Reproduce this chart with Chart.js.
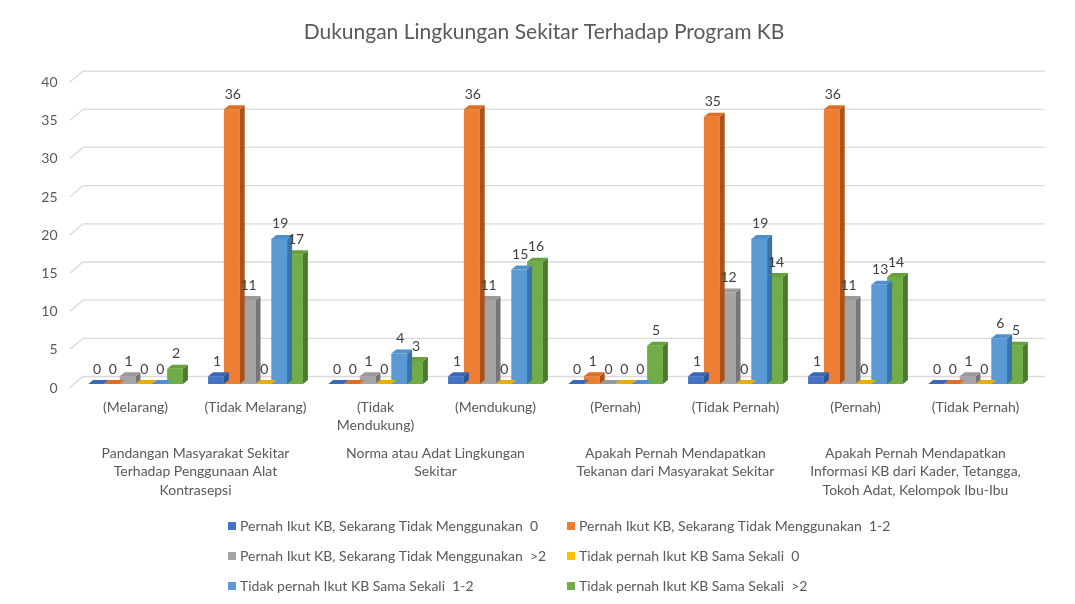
<!DOCTYPE html>
<html>
<head>
<meta charset="utf-8">
<script src="https://cdn.jsdelivr.net/npm/chart.js@4.4.1/dist/chart.umd.min.js"></script>
<style>
    body { margin: 0; background: #fff; }
    #wrap { width: 1075px; height: 604px; }
</style>
</head>
<body>
<div id="wrap"><canvas id="kbChart" width="1075" height="604"></canvas></div>
<script>
const chartTitle = "Dukungan Lingkungan Sekitar Terhadap Program KB";
const categories = ["(Melarang)", "(Tidak Melarang)", ["(Tidak", "Mendukung)"], "(Mendukung)",
    "(Pernah)", "(Tidak Pernah)", "(Pernah)", "(Tidak Pernah)"];
const groups = [
    ["Pandangan Masyarakat Sekitar", "Terhadap Penggunaan Alat", "Kontrasepsi"],
    ["Norma atau Adat Lingkungan", "Sekitar"],
    ["Apakah Pernah Mendapatkan", "Tekanan dari Masyarakat Sekitar"],
    ["Apakah Pernah Mendapatkan", "Informasi KB dari Kader, Tetangga,", "Tokoh Adat, Kelompok Ibu-Ibu"]
];
const seriesNames = [
    "Pernah Ikut KB, Sekarang Tidak Menggunakan  0",
    "Pernah Ikut KB, Sekarang Tidak Menggunakan  1-2",
    "Pernah Ikut KB, Sekarang Tidak Menggunakan  >2",
    "Tidak pernah Ikut KB Sama Sekali  0",
    "Tidak pernah Ikut KB Sama Sekali  1-2",
    "Tidak pernah Ikut KB Sama Sekali  >2"
];
const pernahNol = [0, 1, 0, 1, 0, 1, 1, 0];
const pernahSatuDua = [0, 36, 0, 36, 1, 35, 36, 0];
const pernahLebihDua = [1, 11, 1, 11, 0, 12, 11, 1];
const tidakNol = [0, 0, 0, 0, 0, 0, 0, 0];
const tidakSatuDua = [0, 19, 4, 15, 0, 19, 13, 6];
const tidakLebihDua = [2, 17, 3, 16, 5, 14, 14, 5];
const yTicks = [0, 5, 10, 15, 20, 25, 30, 35, 40];

const frontColors = ["#4472C4", "#ED7D31", "#A5A5A5", "#FFC000", "#5B9BD5", "#70AD47"];
const sideColors = ["#2F5597", "#A9521A", "#777777", "#B98B00", "#3A73A8", "#4B7A2E"];
const topColors = ["#3B67B5", "#DC6F25", "#9A9A9A", "#E8AF00", "#5290CB", "#66A03F"];
const allSeries = [pernahNol, pernahSatuDua, pernahLebihDua, tidakNol, tidakSatuDua, tidakLebihDua];

const DX = 5, DY = 4;
const FONT = "Lato, 'Open Sans', sans-serif";

// title drawn by hand: Excel centres it a bit right of the canvas middle
const titlePlugin = {
    id: "titlePlugin",
    afterDraw(chart) {
        const ctx = chart.ctx;
        ctx.save();
        ctx.font = "21px " + FONT;
        ctx.fillStyle = "#595959";
        ctx.textAlign = "center";
        ctx.textBaseline = "middle";
        ctx.fillText(chartTitle, 544, 32);
        ctx.restore();
    }
};

// back wall grid lines with the little slanted floor edge
const wallGrid = {
    id: "wallGrid",
    beforeDatasetsDraw(chart) {
        const { ctx, chartArea, scales: { y } } = chart;
        ctx.save();
        ctx.strokeStyle = "#d9d9d9";
        ctx.lineWidth = 1.3;
        yTicks.forEach(v => {
            const py = y.getPixelForValue(v);
            ctx.beginPath();
            ctx.moveTo(chartArea.left - 5.5, py + 3.5);
            ctx.lineTo(chartArea.left + 7.5, py - 7.5);
            ctx.lineTo(chartArea.right + 9.5, py - 7.5);
            ctx.stroke();
        });
        ctx.restore();
    }
};

// side + top faces, drawn right after each dataset so the next bar covers them
const bar3d = {
    id: "bar3d",
    afterDatasetDraw(chart, args) {
        const ctx = chart.ctx;
        const i = args.index;
        ctx.save();
        args.meta.data.forEach(bar => {
            const p = bar.getProps(["x", "y", "base", "width"], true);
            const l = p.x - p.width / 2, r = p.x + p.width / 2;
            ctx.fillStyle = sideColors[i];
            ctx.beginPath();
            ctx.moveTo(r, p.y);
            ctx.lineTo(r + DX, p.y - DY);
            ctx.lineTo(r + DX, p.base - DY);
            ctx.lineTo(r, p.base);
            ctx.closePath();
            ctx.fill();
            ctx.fillStyle = topColors[i];
            ctx.beginPath();
            ctx.moveTo(l, p.y);
            ctx.lineTo(l + DX, p.y - DY);
            ctx.lineTo(r + DX, p.y - DY);
            ctx.lineTo(r, p.y);
            ctx.closePath();
            ctx.fill();
        });
        ctx.restore();
    }
};

const valueLabels = {
    id: "valueLabels",
    afterDatasetsDraw(chart) {
        const ctx = chart.ctx;
        ctx.save();
        ctx.font = "14px " + FONT;
        ctx.fillStyle = "#404040";
        ctx.textAlign = "center";
        ctx.textBaseline = "middle";
        chart.data.datasets.forEach((ds, i) => {
            chart.getDatasetMeta(i).data.forEach((bar, j) => {
                ctx.fillText(ds.data[j], bar.x + 1, bar.y - 15);
            });
        });
        ctx.restore();
    }
};

const sideLegend = {
    id: "sideLegend",
    afterDraw(chart) {
        const ctx = chart.ctx;
        const colX = [228, 567];
        const rowY = [526, 556, 586];
        ctx.save();
        ctx.font = "14px " + FONT;
        ctx.textBaseline = "middle";
        seriesNames.forEach((name, i) => {
            const x = colX[i % 2], y = rowY[Math.floor(i / 2)];
            ctx.fillStyle = frontColors[i];
            ctx.fillRect(x, y - 4, 8, 8);
            ctx.fillStyle = "#595959";
            ctx.fillText(name, x + 12, y);
        });
        ctx.restore();
    }
};

const datasets = allSeries.map((vals, i) => ({
    label: seriesNames[i],
    data: vals,
    backgroundColor: frontColors[i],
    categoryPercentage: 0.79,
    barPercentage: 1.0
}));

new Chart(document.getElementById("kbChart"), {
    type: "bar",
    data: { labels: categories, datasets: datasets },
    options: {
        responsive: false,
        animation: false,
        layout: { padding: { left: 0, right: 39.5, top: 78.6, bottom: 92 } },
        plugins: {
            legend: { display: false },
            tooltip: { enabled: false },
            title: { display: false }
        },
        scales: {
            x: {
                grid: { display: false, drawTicks: false },
                border: { display: false },
                ticks: { color: "#595959", font: { family: FONT, size: 14, lineHeight: 1.3 }, padding: 14, maxRotation: 0, autoSkip: false },
                afterFit: s => { s.height = 56; }
            },
            x2: {
                type: "category",
                labels: groups,
                position: "bottom",
                offset: true,
                grid: { display: false, drawTicks: false },
                border: { display: false },
                ticks: { color: "#595959", font: { family: FONT, size: 14, lineHeight: 1.32 }, padding: 4, maxRotation: 0, autoSkip: false },
                afterFit: s => { s.height = 72; }
            },
            y: {
                min: 0,
                max: 40,
                grid: { display: false, drawTicks: false },
                border: { display: false },
                ticks: { stepSize: 5, color: "#595959", font: { family: FONT, size: 14 }, padding: 18, labelOffset: 4 },
                afterFit: s => { s.width = 75.5; }
            }
        }
    },
    plugins: [wallGrid, bar3d, valueLabels, sideLegend, titlePlugin]
});
</script>
</body>
</html>
